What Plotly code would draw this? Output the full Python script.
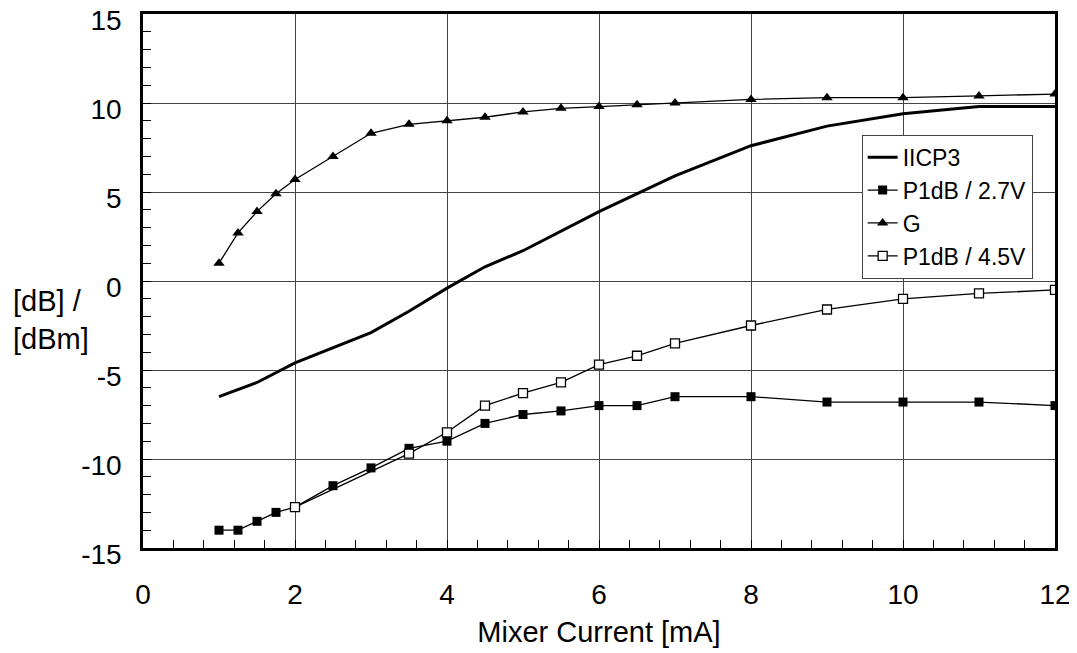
import plotly.graph_objects as go

# IICP3 (thick line, no markers)
iicp3_x = [1, 1.5, 2, 3, 3.5, 4, 4.5, 5, 6, 7, 8, 9, 10, 11, 12]
iicp3_y = [-6.5, -5.7, -4.6, -2.9, -1.7, -0.4, 0.8, 1.7, 3.9, 5.9, 7.6, 8.7, 9.4, 9.8, 9.8]

# P1dB / 2.7V (filled squares)
p27_x = [1, 1.25, 1.5, 1.75, 2, 2.5, 3, 3.5, 4, 4.5, 5, 5.5, 6, 6.5, 7, 8, 9, 10, 11, 12]
p27_y = [-14.0, -14.0, -13.5, -13.0, -12.7, -11.5, -10.5, -9.4, -9.0, -8.0, -7.5, -7.3,
         -7.0, -7.0, -6.5, -6.5, -6.8, -6.8, -6.8, -7.0]

# G (triangles)
g_x = [1, 1.25, 1.5, 1.75, 2, 2.5, 3, 3.5, 4, 4.5, 5, 5.5, 6, 6.5, 7, 8, 9, 10, 11, 12]
g_y = [1.0, 2.7, 3.9, 4.9, 5.7, 7.0, 8.3, 8.8, 9.0, 9.2, 9.5, 9.7, 9.8, 9.9, 10.0,
       10.2, 10.3, 10.3, 10.4, 10.5]

# P1dB / 4.5V (open squares)
p45_x = [2, 3.5, 4, 4.5, 5, 5.5, 6, 6.5, 7, 8, 9, 10, 11, 12]
p45_y = [-12.7, -9.7, -8.5, -7.0, -6.3, -5.7, -4.7, -4.2, -3.5, -2.5, -1.6, -1.0, -0.7, -0.5]

# axis ticks (hyphen minus, as in the original)
y_ticks = [-15, -10, -5, 0, 5, 10, 15]
y_labels = ["-15", "-10", "-5", "0", "5", "10", "15"]
x_ticks = [0, 2, 4, 6, 8, 10, 12]

FONT = "Liberation Sans, Arial, sans-serif"

fig = go.Figure()
fig.add_trace(go.Scatter(x=iicp3_x, y=iicp3_y, mode="lines", name="IICP3",
                         line=dict(color="black", width=3)))
fig.add_trace(go.Scatter(x=p27_x, y=p27_y, mode="lines+markers", name="P1dB / 2.7V",
                         line=dict(color="black", width=1.3),
                         marker=dict(symbol="square", size=9, color="black")))
fig.add_trace(go.Scatter(x=g_x, y=g_y, mode="lines+markers", name="G",
                         line=dict(color="black", width=1.3),
                         marker=dict(symbol="triangle-up", size=10, color="black")))
fig.add_trace(go.Scatter(x=p45_x, y=p45_y, mode="lines+markers", name="P1dB / 4.5V",
                         line=dict(color="black", width=1.3),
                         marker=dict(symbol="square", size=9, color="white",
                                     line=dict(color="black", width=1.3))))

axis_common = dict(showline=True, linecolor="black", linewidth=2.5, mirror=True,
                   showgrid=True, gridcolor="#444", gridwidth=1, zeroline=False,
                   automargin=False,
                   ticks="inside", ticklen=8, tickcolor="black", tickwidth=1,
                   tickfont=dict(size=28, color="black", family=FONT))

fig.update_layout(
    width=1077, height=653,
    margin=dict(l=135, r=30, t=6, b=113),
    paper_bgcolor="white", plot_bgcolor="white",
    font=dict(family=FONT, color="black"),
    showlegend=True,
    legend=dict(x=0.788, y=0.774, xanchor="left", yanchor="top",
                bgcolor="white", bordercolor="#444", borderwidth=1,
                font=dict(size=23, color="black", family=FONT),
                itemwidth=30, tracegroupgap=0),
    xaxis=dict(range=[0, 12], tickvals=x_ticks,
               minor=dict(dtick=0.4, tick0=0, ticks="inside", ticklen=8, tickcolor="black",
                          showgrid=False),
               ticklabelstandoff=20,
               title=dict(text="Mixer Current [mA]", font=dict(size=29, family=FONT), standoff=13),
               **axis_common),
    yaxis=dict(range=[-15, 15], tickvals=y_ticks, ticktext=y_labels,
               minor=dict(dtick=1, tick0=0, ticks="inside", ticklen=8, tickcolor="black",
                          showgrid=False),
               ticklabelstandoff=13, ticklabelshift=6, ticklabeloverflow="allow",
               **axis_common),
    annotations=[dict(text="[dB] /<br>[dBm]", xref="paper", yref="paper",
                      x=-0.145, y=0.427, xanchor="left", yanchor="middle", align="left",
                      showarrow=False, font=dict(size=29, color="black", family=FONT))],
)

fig.write_html("out.html")
